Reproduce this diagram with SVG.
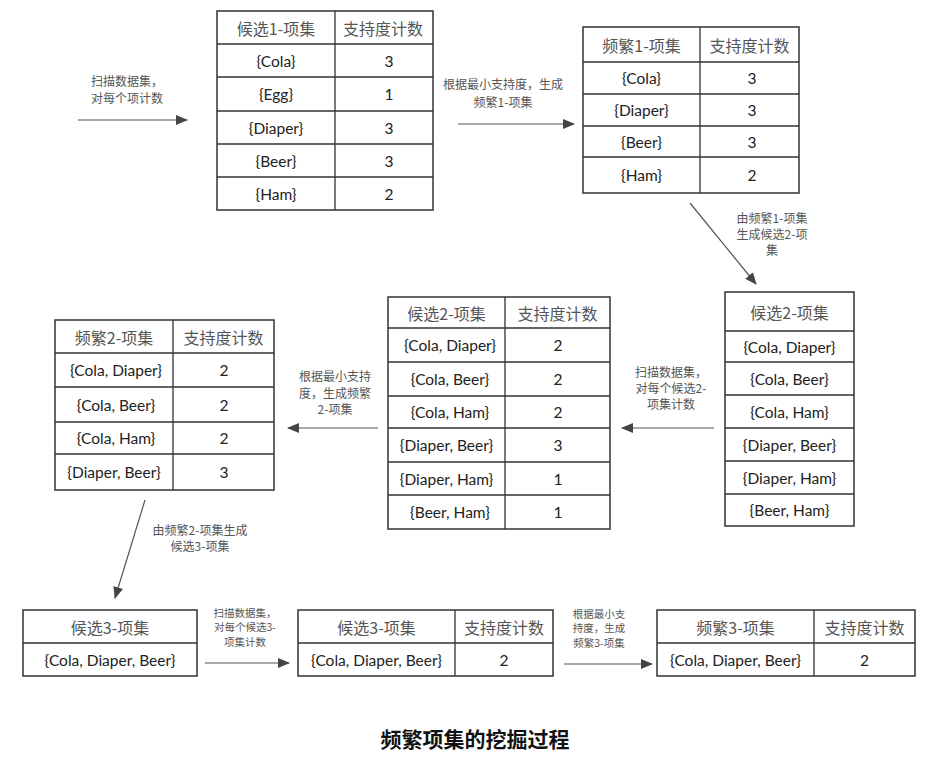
<svg xmlns="http://www.w3.org/2000/svg" width="933" height="758" viewBox="0 0 933 758">
  <style>
    .bg { fill: #ffffff; }
    .cell { fill: #ffffff; stroke: #333333; stroke-width: 1.5; }
    .grid { stroke: #333333; stroke-width: 1.3; fill: none; }
    .hd { font-family: "Noto Sans CJK SC", sans-serif; font-size: 16px; fill: #555555; text-anchor: middle; dominant-baseline: central; }
    .dt { font-family: Lato, "Liberation Sans", sans-serif; font-size: 15.5px; fill: #222222; text-anchor: middle; dominant-baseline: central; }
    .note { font-family: "Noto Sans CJK SC", sans-serif; font-size: 12px; fill: #555555; text-anchor: middle; dominant-baseline: central; }
    .small { font-size: 10.5px; }
    .edge { stroke: #555555; stroke-width: 1.2; fill: none; marker-end: url(#arrow); }
    .title { font-family: "Noto Sans CJK SC", sans-serif; font-size: 21px; font-weight: bold; fill: #111111; text-anchor: middle; dominant-baseline: central; }
  </style>
  <defs>
    <marker id="arrow" markerWidth="12" markerHeight="10" refX="11" refY="5" orient="auto" markerUnits="userSpaceOnUse">
      <path d="M0,0 L12,5 L0,10 Z" fill="#444444"/>
    </marker>
  </defs>

  <rect class="bg" x="0" y="0" width="933" height="758"/>

  <!-- candidate 1-itemsets -->
  <g id="c1">
    <rect class="cell" x="217" y="11" width="216" height="199"/>
    <path class="grid" d="M335,11 V210 M217,44 H433 M217,77 H433 M217,111 H433 M217,144 H433 M217,177 H433"/>
    <text class="hd" x="276" y="27.5">候选1-项集</text>
    <text class="hd" x="383" y="27.5">支持度计数</text>
    <text class="dt" x="276" y="60.5">{Cola}</text><text class="dt" x="389" y="60.5">3</text>
    <text class="dt" x="276" y="94">{Egg}</text><text class="dt" x="389" y="94">1</text>
    <text class="dt" x="276" y="127.5">{Diaper}</text><text class="dt" x="389" y="127.5">3</text>
    <text class="dt" x="276" y="160.5">{Beer}</text><text class="dt" x="389" y="160.5">3</text>
    <text class="dt" x="276" y="193.5">{Ham}</text><text class="dt" x="389" y="193.5">2</text>
  </g>

  <!-- frequent 1-itemsets -->
  <g id="l1">
    <rect class="cell" x="583" y="27" width="216" height="166"/>
    <path class="grid" d="M700,27 V193 M583,62 H799 M583,94 H799 M583,126 H799 M583,157 H799"/>
    <text class="hd" x="641.5" y="44.5">频繁1-项集</text>
    <text class="hd" x="749.5" y="44.5">支持度计数</text>
    <text class="dt" x="641.5" y="78">{Cola}</text><text class="dt" x="752" y="78">3</text>
    <text class="dt" x="641.5" y="110">{Diaper}</text><text class="dt" x="752" y="110">3</text>
    <text class="dt" x="641.5" y="141.5">{Beer}</text><text class="dt" x="752" y="141.5">3</text>
    <text class="dt" x="641.5" y="175">{Ham}</text><text class="dt" x="752" y="175">2</text>
  </g>

  <!-- candidate 2-itemsets (generated) -->
  <g id="c2gen">
    <rect class="cell" x="725" y="292" width="129" height="234"/>
    <path class="grid" d="M725,331 H854 M725,362 H854 M725,395 H854 M725,428 H854 M725,461 H854 M725,494 H854"/>
    <text class="hd" x="789.5" y="311.5">候选2-项集</text>
    <text class="dt" x="789.5" y="346.5">{Cola, Diaper}</text>
    <text class="dt" x="789.5" y="378.5">{Cola, Beer}</text>
    <text class="dt" x="789.5" y="411.5">{Cola, Ham}</text>
    <text class="dt" x="789.5" y="444.5">{Diaper, Beer}</text>
    <text class="dt" x="789.5" y="477.5">{Diaper, Ham}</text>
    <text class="dt" x="789.5" y="510">{Beer, Ham}</text>
  </g>

  <!-- candidate 2-itemsets (counted) -->
  <g id="c2">
    <rect class="cell" x="388" y="297" width="222" height="232"/>
    <path class="grid" d="M505,297 V529 M388,328 H610 M388,362 H610 M388,396 H610 M388,428 H610 M388,462 H610 M388,495 H610"/>
    <text class="hd" x="446.5" y="312.5">候选2-项集</text>
    <text class="hd" x="557.5" y="312.5">支持度计数</text>
    <text class="dt" x="450" y="345">{Cola, Diaper}</text><text class="dt" x="558" y="345">2</text>
    <text class="dt" x="450" y="379">{Cola, Beer}</text><text class="dt" x="558" y="379">2</text>
    <text class="dt" x="450" y="412">{Cola, Ham}</text><text class="dt" x="558" y="412">2</text>
    <text class="dt" x="446.5" y="445">{Diaper, Beer}</text><text class="dt" x="558" y="445">3</text>
    <text class="dt" x="446.5" y="478.5">{Diaper, Ham}</text><text class="dt" x="558" y="478.5">1</text>
    <text class="dt" x="450" y="512">{Beer, Ham}</text><text class="dt" x="558" y="512">1</text>
  </g>

  <!-- frequent 2-itemsets -->
  <g id="l2">
    <rect class="cell" x="55" y="320" width="219" height="170"/>
    <path class="grid" d="M173,320 V490 M55,353 H274 M55,387 H274 M55,422 H274 M55,454 H274"/>
    <text class="hd" x="114" y="336.5">频繁2-项集</text>
    <text class="hd" x="223.5" y="336.5">支持度计数</text>
    <text class="dt" x="116" y="370">{Cola, Diaper}</text><text class="dt" x="224" y="370">2</text>
    <text class="dt" x="116" y="404.5">{Cola, Beer}</text><text class="dt" x="224" y="404.5">2</text>
    <text class="dt" x="116" y="438">{Cola, Ham}</text><text class="dt" x="224" y="438">2</text>
    <text class="dt" x="114" y="472">{Diaper, Beer}</text><text class="dt" x="224" y="472">3</text>
  </g>

  <!-- candidate 3-itemsets (generated) -->
  <g id="c3gen">
    <rect class="cell" x="23" y="610" width="174" height="66"/>
    <path class="grid" d="M23,643 H197"/>
    <text class="hd" x="110" y="626.5">候选3-项集</text>
    <text class="dt" x="110" y="659.5">{Cola, Diaper, Beer}</text>
  </g>

  <!-- candidate 3-itemsets (counted) -->
  <g id="c3">
    <rect class="cell" x="298" y="610" width="255" height="66"/>
    <path class="grid" d="M455,610 V676 M298,643 H553"/>
    <text class="hd" x="376.5" y="626.5">候选3-项集</text>
    <text class="hd" x="504" y="626.5">支持度计数</text>
    <text class="dt" x="376.5" y="659.5">{Cola, Diaper, Beer}</text>
    <text class="dt" x="504" y="659.5">2</text>
  </g>

  <!-- frequent 3-itemsets -->
  <g id="l3">
    <rect class="cell" x="657" y="610" width="258" height="66"/>
    <path class="grid" d="M814,610 V676 M657,643 H915"/>
    <text class="hd" x="735.5" y="626.5">频繁3-项集</text>
    <text class="hd" x="864.5" y="626.5">支持度计数</text>
    <text class="dt" x="735.5" y="659.5">{Cola, Diaper, Beer}</text>
    <text class="dt" x="864.5" y="659.5">2</text>
  </g>

  <!-- connectors -->
  <g id="edges">
    <line class="edge" x1="78" y1="120" x2="187" y2="120"/>
    <line class="edge" x1="458" y1="124" x2="574" y2="124"/>
    <line class="edge" x1="690" y1="203" x2="756" y2="284"/>
    <line class="edge" x1="714" y1="428" x2="622" y2="428"/>
    <line class="edge" x1="378" y1="428" x2="288" y2="428"/>
    <line class="edge" x1="145" y1="500" x2="115" y2="598"/>
    <line class="edge" x1="205" y1="663" x2="289" y2="663"/>
    <line class="edge" x1="564" y1="664" x2="652" y2="664"/>
  </g>

  <!-- connector labels -->
  <g id="labels">
    <text class="note" x="127" y="80">扫描数据集，</text>
    <text class="note" x="127" y="97">对每个项计数</text>

    <text class="note" x="503" y="83">根据最小支持度，生成</text>
    <text class="note" x="503" y="101">频繁1-项集</text>

    <text class="note" x="772" y="217">由频繁1-项集</text>
    <text class="note" x="772" y="233">生成候选2-项</text>
    <text class="note" x="772" y="249">集</text>

    <text class="note" x="671" y="371">扫描数据集，</text>
    <text class="note" x="671" y="387">对每个候选2-</text>
    <text class="note" x="671" y="403">项集计数</text>

    <text class="note" x="335" y="375">根据最小支持</text>
    <text class="note" x="335" y="392">度，生成频繁</text>
    <text class="note" x="335" y="408">2-项集</text>

    <text class="note" x="200" y="529">由频繁2-项集生成</text>
    <text class="note" x="200" y="545">候选3-项集</text>

    <text class="note small" x="245" y="612">扫描数据集，</text>
    <text class="note small" x="245" y="626.5">对每个候选3-</text>
    <text class="note small" x="245" y="641">项集计数</text>

    <text class="note small" x="599" y="613">根据最小支</text>
    <text class="note small" x="599" y="627.5">持度，生成</text>
    <text class="note small" x="599" y="642">频繁3-项集</text>
  </g>

  <text class="title" x="475" y="738">频繁项集的挖掘过程</text>
</svg>
